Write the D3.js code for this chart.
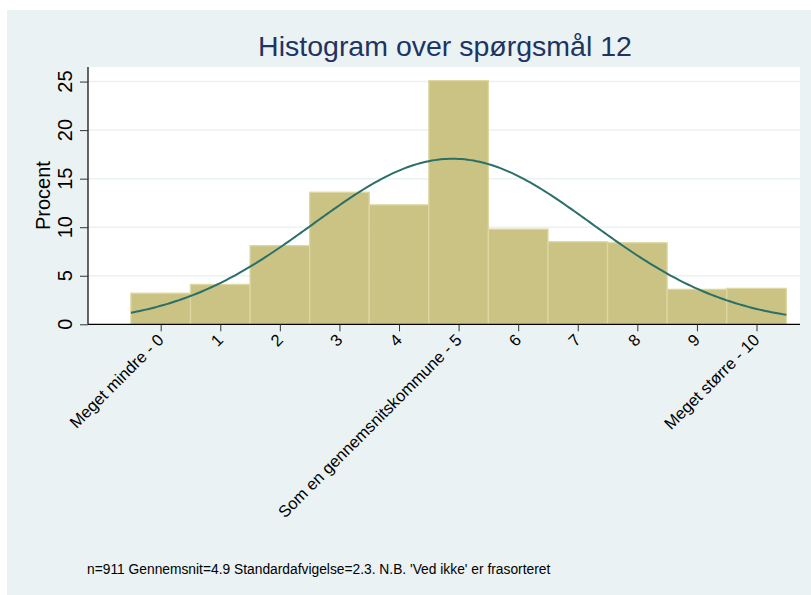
<html>
    <head>
        <meta charset="utf-8">
        <title>Histogram</title>
        <script src="https://d3js.org/d3.v7.min.js"></script>
        <style>
            body { margin: 0; background: #ffffff; }
            text { font-family: "Liberation Sans", Arial, sans-serif; }
        </style>
    </head>
    <body>
        <div id="chart"></div>
        <script>
            // Data
            const categories = ["Meget mindre - 0", "1", "2", "3", "4", "Som en gennemsnitskommune - 5",
                                "6", "7", "8", "9", "Meget større - 10"];
            const scores = [0, 1, 2, 3, 4, 5, 6, 7, 8, 9, 10];
            const percents = [3.2, 4.1, 8.1, 13.6, 12.3, 25.1, 9.8, 8.5, 8.4, 3.6, 3.7];
            const yTicks = [0, 5, 10, 15, 20, 25];
            const mean = 4.9;
            const sd = 2.34;   // shown as 2.3 in the note
            const titleText = "Histogram over spørgsmål 12";
            const yTitle = "Procent";
            const note = "n=911 Gennemsnit=4.9 Standardafvigelse=2.3. N.B. 'Ved ikke' er frasorteret";

            const W = 811, H = 595;
            const plot = { left: 88, right: 800, top: 67, bottom: 324.3 };

            const svg = d3.select("#chart").append("svg")
                .attr("width", W)
                .attr("height", H);

            // Outer background
            svg.append("rect")
                .attr("x", 7).attr("y", 10)
                .attr("width", W - 7).attr("height", H - 10)
                .attr("fill", "#eaf2f3");

            // Plot region
            svg.append("rect")
                .attr("x", plot.left).attr("y", plot.top)
                .attr("width", plot.right - plot.left).attr("height", plot.bottom - plot.top)
                .attr("fill", "#ffffff");

            const x = d3.scaleLinear()
                .domain([-1.22, 10.73])
                .range([plot.left, plot.right]);

            const y = d3.scaleLinear()
                .domain([0, 26.5])
                .range([plot.bottom, plot.top]);

            // Gridlines
            svg.append("g")
                .selectAll("line")
                .data(yTicks.filter(d => d > 0))
                .enter().append("line")
                .attr("x1", plot.left).attr("x2", plot.right)
                .attr("y1", d => y(d)).attr("y2", d => y(d))
                .attr("stroke", "#eaf2f3")
                .attr("stroke-width", 1.5);

            // Bars
            svg.append("g")
                .selectAll("rect")
                .data(percents)
                .enter().append("rect")
                .attr("x", (d, i) => x(scores[i] - 0.5))
                .attr("y", d => y(d))
                .attr("width", (d, i) => x(scores[i] + 0.5) - x(scores[i] - 0.5))
                .attr("height", d => y(0) - y(d))
                .attr("fill", "#cbc383")
                .attr("stroke", "#ddd7a2")
                .attr("stroke-width", 1.3);

            // Normal density overlay (percent scale, bin width 1)
            const dens = v => 100 / (sd * Math.sqrt(2 * Math.PI)) * Math.exp(-0.5 * Math.pow((v - mean) / sd, 2));
            const curveX = d3.range(-0.5, 10.5001, 0.05);
            svg.append("path")
                .datum(curveX)
                .attr("fill", "none")
                .attr("stroke", "#2b6f69")
                .attr("stroke-width", 2)
                .attr("d", d3.line().x(d => x(d)).y(d => y(dens(d))));

            // Y axis
            const yAxis = svg.append("g")
                .attr("transform", `translate(${plot.left},0)`)
                .call(d3.axisLeft(y).tickValues(yTicks).tickSize(8).tickFormat(""));
            yAxis.select(".domain").attr("stroke", "#000").attr("stroke-width", 1.2)
                .attr("d", `M0,${plot.top}V${plot.bottom}`);
            yAxis.selectAll(".tick line").attr("stroke", "#333");

            svg.append("g")
                .selectAll("text")
                .data(yTicks)
                .enter().append("text")
                .attr("transform", d => `translate(72,${y(d)}) rotate(-90)`)
                .attr("text-anchor", "middle")
                .attr("font-size", 20)
                .attr("fill", "#000")
                .text(d => d);

            svg.append("text")
                .attr("transform", `translate(50,${(plot.top + plot.bottom) / 2}) rotate(-90)`)
                .attr("text-anchor", "middle")
                .attr("font-size", 20)
                .attr("fill", "#000")
                .text(yTitle);

            // X axis
            const xAxis = svg.append("g")
                .attr("transform", `translate(0,${plot.bottom})`)
                .call(d3.axisBottom(x).tickValues(scores).tickSize(7).tickFormat(""));
            xAxis.select(".domain").attr("stroke", "#000").attr("stroke-width", 1.2)
                .attr("d", `M${plot.left},0H${plot.right}`);
            xAxis.selectAll(".tick line").attr("stroke", "#333");

            svg.append("g")
                .selectAll("text")
                .data(categories)
                .enter().append("text")
                .attr("transform", (d, i) => `translate(${x(scores[i])},337) rotate(-45)`)
                .attr("text-anchor", "end")
                .attr("dy", "0.35em")
                .attr("font-size", 16.5)
                .attr("fill", "#000")
                .text(d => d);

            // Title
            svg.append("text")
                .attr("x", (plot.left + plot.right) / 2 + 1)
                .attr("y", 56)
                .attr("text-anchor", "middle")
                .attr("font-size", 28.5)
                .attr("fill", "#1f3461")
                .text(titleText);

            // Note
            svg.append("text")
                .attr("x", 87)
                .attr("y", 574)
                .attr("font-size", 13.8)
                .attr("fill", "#000")
                .text(note);
        </script>
    </body>
</html>
